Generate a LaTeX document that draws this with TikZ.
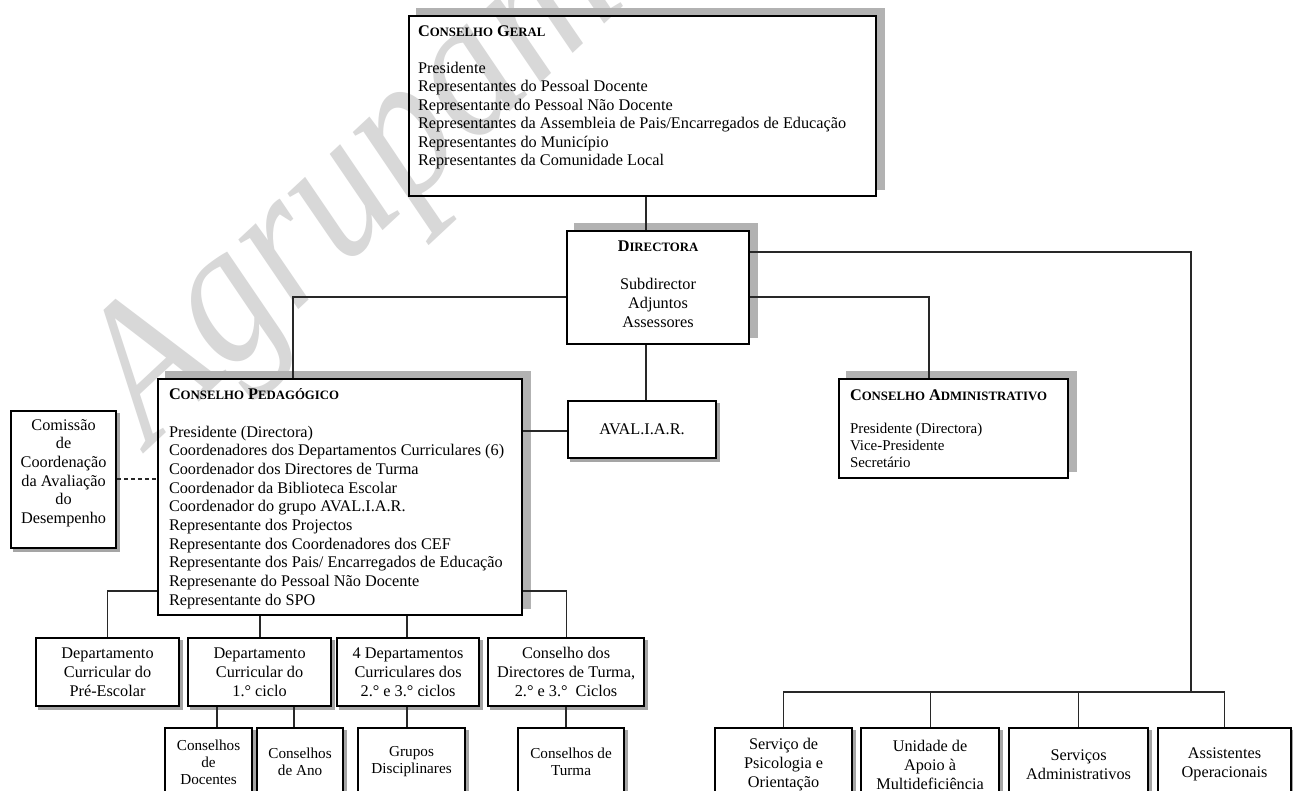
\documentclass[tikz,border=0pt]{standalone}
\usepackage{fontspec}
\setmainfont{Liberation Serif}
\newdimen\px \px=0.75pt
\newcommand\sct[1]{{\fontsize{9.6}{10}\selectfont #1}}
\newcommand\lbox[5]{\parbox[c][#2\px][t]{#1\px}{\raggedright\leftskip=#3\px\vspace*{#4\px}#5\par}}
\newcommand\tbox[4]{\parbox[c][#2\px][t]{#1\px}{\centering\vspace*{#3\px}#4\par}}
\newcommand\cbox[3]{\parbox[c][#2\px][c]{#1\px}{\centering #3\par}}
\definecolor{shd}{RGB}{178,178,178}
\definecolor{shdb}{RGB}{165,165,165}
\definecolor{wmc}{RGB}{216,216,216}
\definecolor{ln}{RGB}{40,40,40}
\newcommand\bigshadow[1]{%
  \fill[shd] ([xshift=6pt,yshift=5.25pt]#1.north west) rectangle (#1.north east);
  \fill[shd] ([xshift=6pt,yshift=5.25pt]#1.north east) rectangle ([yshift=5.25pt]#1.south east);}
\newcommand\smallshadow[1]{%
  \fill[shdb] ([yshift=-2pt]#1.north east) rectangle ([xshift=2pt,yshift=-2pt]#1.south east);
  \fill[shdb] ([xshift=2pt]#1.south west) rectangle ([xshift=2pt,yshift=-2pt]#1.south east);}
\tikzset{
  bigbox/.style={draw=black, line width=1.5pt, inner sep=0pt, anchor=north west},
  smallbox/.style={draw=black, line width=1.6pt, inner sep=0pt, anchor=north west},
  conn/.style={draw=ln, line width=0.8pt},
  ftw/.style={font=\fontsize{12.2}{14.2}\selectfont},
  fel/.style={font=\fontsize{11.4}{12.75}\selectfont},
  wm/.style={font=\fontsize{150}{150}\selectfont\itshape, text=wmc, inner sep=0pt}
}
\begin{document}
\begin{tikzpicture}[x=0.75pt,y=-0.75pt]
\useasboundingbox (0,0) rectangle (1293,790);
\clip (0,0) rectangle (1293,790);
\fill[white] (0,0) rectangle (1293,790);

% watermark
\node[wm, rotate=43, xscale=0.88, anchor=base west] (wmark) at (150,448) {Agrupamento};

% main boxes
\node[bigbox, font=\fontsize{12.2}{13.8}\selectfont] (cg) at (408,15)
  {\lbox{467}{180}{9}{10}{{\bfseries C\sct{ONSELHO} G\sct{ERAL}}\\ \mbox{}\\
   Presidente\\ Representantes do Pessoal Docente\\ Representante do Pessoal Não Docente\\
   Representantes da Assembleia de Pais/Encarregados de Educação\\
   Representantes do Município\\ Representantes da Comunidade Local}};

\node[bigbox, ftw] (dir) at (566,230)
  {\tbox{182}{113}{10}{{\bfseries D\sct{IRECTORA}}\\ \mbox{}\\ Subdirector\\ Adjuntos\\ Assessores}};

\node[bigbox, font=\fontsize{12.2}{14}\selectfont] (cp) at (157,378)
  {\lbox{364}{236}{11}{10}{{\bfseries C\sct{ONSELHO} P\sct{EDAGÓGICO}}\\ \mbox{}\\
   Presidente (Directora)\\ Coordenadores dos Departamentos Curriculares (6)\\
   Coordenador dos Directores de Turma\\ Coordenador da Biblioteca Escolar\\
   Coordenador do grupo AVAL.I.A.R.\\ Representante dos Projectos\\
   Representante dos Coordenadores dos CEF\\
   Representante dos Pais/ Encarregados de Educação\\
   Represenante do Pessoal Não Docente\\ Representante do SPO}};

\node[bigbox, font=\fontsize{12.2}{12}\selectfont] (ca) at (838,378)
  {\lbox{229}{99}{11}{11}{{\bfseries C\sct{ONSELHO} A\sct{DMINISTRATIVO}}\par\vspace{11.5pt}
   {\fontsize{11.2}{12.75}\selectfont Presidente (Directora)\\ Vice-Presidente\\ Secretário\par}}};

\node[smallbox, ftw] (aval) at (567,400) {\cbox{148}{57}{AVAL.I.A.R.}};

\node[smallbox, font=\fontsize{12.2}{14}\selectfont] (com) at (10,410)
  {\tbox{105}{137}{8}{Comissão\\ de\\ Coordenação\\ da Avaliação\\ do\\ Desempenho}};

% department row
\node[smallbox, ftw] (pre) at (35,637) {\cbox{143}{68}{Departamento\\ Curricular do\\ Pré-Escolar}};
\node[smallbox, ftw] (c1) at (187,637) {\cbox{143}{68}{Departamento\\ Curricular do\\ 1.° ciclo}};
\node[smallbox, ftw] (d4) at (336,637) {\cbox{142}{68}{4 Departamentos\\ Curriculares dos\\ 2.° e 3.° ciclos}};
\node[smallbox, ftw] (cd) at (487,637) {\cbox{156}{68}{Conselho dos\\ Directores de Turma,\\ 2.° e 3.°~\ Ciclos}};

% sub row
\node[smallbox, fel] (cdoc) at (164,727) {\cbox{87}{68}{Conselhos\\ de\\ Docentes}};
\node[smallbox, fel] (cano) at (256,727) {\cbox{86}{68}{Conselhos\\ de Ano}};
\node[smallbox, fel] (gd) at (357,727) {\cbox{107}{68}{Grupos\\ Disciplinares}};
\node[smallbox, fel] (ct) at (517,727) {\cbox{106}{68}{Conselhos de\\ Turma}};

% bottom services
\node[smallbox, ftw] (psi) at (714,727) {\cbox{137}{73}{Serviço de\\ Psicologia e\\ Orientação}};
\node[smallbox, ftw] (uam) at (860,727) {\cbox{138}{73}{Unidade de\\ Apoio à\\ Multideficiência}};
\node[smallbox, ftw] (sa) at (1008,727) {\cbox{139}{73}{Serviços\\ Administrativos}};
\node[smallbox, ftw] (ao) at (1157,727) {\cbox{133}{73}{Assistentes\\ Operacionais}};

% shadows
\bigshadow{cg}\bigshadow{dir}\bigshadow{cp}\bigshadow{ca}
\smallshadow{aval}\smallshadow{com}
\smallshadow{pre}\smallshadow{c1}\smallshadow{d4}\smallshadow{cd}
\smallshadow{cdoc}\smallshadow{cano}\smallshadow{gd}\smallshadow{ct}
\smallshadow{psi}\smallshadow{uam}\smallshadow{sa}\smallshadow{ao}

% helper coordinates
\coordinate (x646) at (646,0);
\coordinate (x293) at (293,0);
\coordinate (x929) at (929,0);
\coordinate (x260) at (260,0);
\coordinate (x407) at (407,0);
\coordinate (x566) at (566,0);
\coordinate (x217) at (217,0);
\coordinate (x294) at (294,0);
\coordinate (y252) at (0,252);
\coordinate (y297) at (0,297);
\coordinate (y431) at (0,431);
\coordinate (y479) at (0,479);
\coordinate (y591) at (0,591);
\coordinate (busR) at (1191,692);

% connectors
\draw[conn] (cg.south -| x646) -- (dir.north -| x646);
\draw[conn] (dir.east |- y252) -| (busR);
\draw[conn] (psi.north) -- (psi.north |- busR) -- (ao.north |- busR) -- (ao.north);
\draw[conn] (uam.north |- busR) -- (uam.north);
\draw[conn] (sa.north |- busR) -- (sa.north);
\draw[conn] (dir.west |- y297) -| (cp.north -| x293);
\draw[conn] (dir.east |- y297) -| (ca.north -| x929);
\draw[conn] (dir.south -| x646) -- (aval.north -| x646);
\draw[conn] (cp.east |- y431) -- (aval.west |- y431);
\draw[conn, dash pattern=on 3pt off 2.2pt] (com.east |- y479) -- (cp.west |- y479);
\draw[conn] (cp.west |- y591) -| (pre.north);
\draw[conn] (cp.south -| x260) -- (c1.north -| x260);
\draw[conn] (cp.south -| x407) -- (d4.north -| x407);
\draw[conn] (cp.east |- y591) -| (cd.north);
\draw[conn] (c1.south -| x217) -- (cdoc.north -| x217);
\draw[conn] (c1.south -| x294) -- (cano.north -| x294);
\draw[conn] (d4.south -| x407) -- (gd.north -| x407);
\draw[conn] (cd.south -| x566) -- (ct.north -| x566);
\end{tikzpicture}
\end{document}
